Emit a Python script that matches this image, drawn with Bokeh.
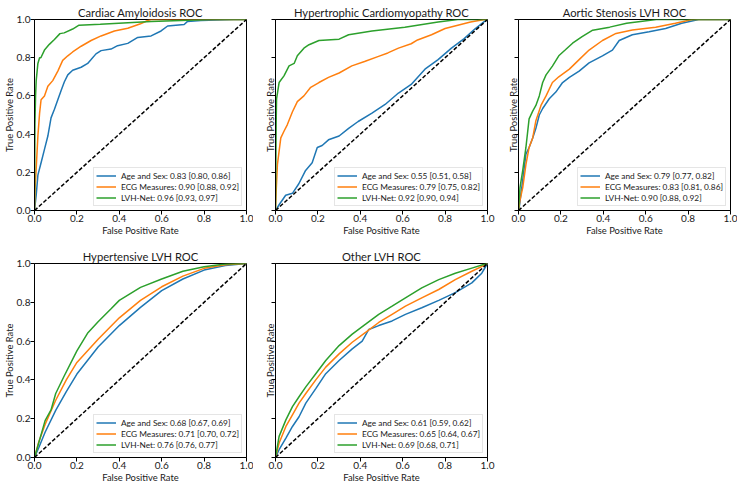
from bokeh.plotting import figure
from bokeh.layouts import column, row
from bokeh.models import Range1d, FixedTicker, PrintfTickFormatter, CustomJSTickFormatter, Legend
from bokeh.embed import file_html
from bokeh.resources import INLINE

# ---------------- data ----------------
titles = ["Cardiac Amyloidosis ROC", "Hypertrophic Cardiomyopathy ROC",
          "Aortic Stenosis LVH ROC", "Hypertensive LVH ROC", "Other LVH ROC"]
model_names = ["Age and Sex", "ECG Measures", "LVH-Net"]
auc_texts = [
    ["0.83 [0.80, 0.86]", "0.90 [0.88, 0.92]", "0.96 [0.93, 0.97]"],
    ["0.55 [0.51, 0.58]", "0.79 [0.75, 0.82]", "0.92 [0.90, 0.94]"],
    ["0.79 [0.77, 0.82]", "0.83 [0.81, 0.86]", "0.90 [0.88, 0.92]"],
    ["0.68 [0.67, 0.69]", "0.71 [0.70, 0.72]", "0.76 [0.76, 0.77]"],
    ["0.61 [0.59, 0.62]", "0.65 [0.64, 0.67]", "0.69 [0.68, 0.71]"],
]
tick_values = [0.0, 0.2, 0.4, 0.6, 0.8, 1.0]
chance_fpr = [0.0, 1.0]
chance_tpr = [0.0, 1.0]

# Cardiac amyloidosis
ca_age_fpr = [0, 0.008, 0.016, 0.031, 0.047, 0.063, 0.078, 0.094, 0.11, 0.126, 0.141, 0.157, 0.18, 0.22,
              0.251, 0.267, 0.29, 0.314, 0.361, 0.392, 0.44, 0.487, 0.55, 0.597, 0.628, 0.706, 0.722, 0.785, 0.94, 1.0]
ca_age_tpr = [0, 0.08, 0.185, 0.25, 0.32, 0.39, 0.485, 0.53, 0.58, 0.63, 0.674, 0.71, 0.734, 0.75,
              0.77, 0.79, 0.82, 0.837, 0.845, 0.863, 0.875, 0.906, 0.914, 0.94, 0.966, 0.974, 0.99, 0.995, 1.0, 1.0]
ca_ecg_fpr = [0, 0.003, 0.008, 0.016, 0.024, 0.031, 0.047, 0.063, 0.086, 0.11, 0.133, 0.157, 0.18, 0.22,
              0.267, 0.314, 0.377, 0.44, 0.50, 0.534, 0.55, 1.0]
ca_ecg_tpr = [0, 0.12, 0.22, 0.39, 0.51, 0.58, 0.60, 0.65, 0.68, 0.73, 0.786, 0.81, 0.83, 0.86,
              0.89, 0.914, 0.94, 0.954, 0.978, 0.995, 1.0, 1.0]
ca_lvh_fpr = [0, 0.002, 0.005, 0.008, 0.016, 0.024, 0.03, 0.047, 0.07, 0.094, 0.12, 0.14, 0.18, 0.21,
              0.31, 0.55, 0.83, 1.0]
ca_lvh_tpr = [0, 0.45, 0.6, 0.68, 0.77, 0.80, 0.80, 0.84, 0.87, 0.895, 0.926, 0.93, 0.95, 0.97,
              0.975, 0.99, 1.0, 1.0]

# Hypertrophic cardiomyopathy
hcm_age_fpr = [0, 0.017, 0.048, 0.08, 0.11, 0.142, 0.173, 0.197, 0.22, 0.25, 0.30, 0.345, 0.39, 0.455,
               0.517, 0.58, 0.64, 0.705, 0.767, 0.83, 0.89, 0.94, 0.986, 1.0]
hcm_age_tpr = [0, 0.03, 0.08, 0.09, 0.14, 0.21, 0.25, 0.33, 0.34, 0.37, 0.39, 0.43, 0.466, 0.51,
               0.555, 0.615, 0.66, 0.74, 0.79, 0.85, 0.90, 0.95, 0.99, 1.0]
hcm_ecg_fpr = [0, 0.004, 0.009, 0.025, 0.04, 0.056, 0.08, 0.103, 0.134, 0.166, 0.205, 0.25, 0.30, 0.36,
               0.42, 0.486, 0.53, 0.58, 0.64, 0.67, 0.736, 0.80, 0.86, 0.92, 0.986, 1.0]
hcm_ecg_tpr = [0, 0.12, 0.24, 0.38, 0.415, 0.45, 0.517, 0.57, 0.60, 0.645, 0.67, 0.697, 0.72, 0.757,
               0.78, 0.807, 0.825, 0.85, 0.873, 0.893, 0.92, 0.953, 0.97, 0.987, 1.0, 1.0]
hcm_lvh_fpr = [0, 0.003, 0.005, 0.017, 0.04, 0.064, 0.088, 0.103, 0.134, 0.158, 0.205, 0.30, 0.345,
               0.455, 0.61, 0.767, 0.86, 1.0]
hcm_lvh_tpr = [0, 0.45, 0.585, 0.67, 0.705, 0.757, 0.77, 0.81, 0.85, 0.868, 0.89, 0.897, 0.92,
               0.94, 0.96, 0.987, 1.0, 1.0]

# Aortic stenosis LVH
as_age_fpr = [0, 0.004, 0.012, 0.02, 0.035, 0.05, 0.067, 0.082, 0.098, 0.114, 0.145, 0.176, 0.208, 0.24,
              0.286, 0.333, 0.396, 0.443, 0.475, 0.537, 0.616, 0.694, 0.77, 0.85, 1.0]
as_age_tpr = [0, 0.02, 0.09, 0.16, 0.295, 0.33, 0.38, 0.43, 0.50, 0.534, 0.585, 0.62, 0.67, 0.697,
              0.73, 0.773, 0.81, 0.84, 0.89, 0.92, 0.936, 0.953, 0.98, 1.0, 1.0]
as_ecg_fpr = [0, 0.007, 0.02, 0.035, 0.05, 0.067, 0.082, 0.106, 0.13, 0.16, 0.19, 0.24, 0.286, 0.333,
              0.396, 0.46, 0.537, 0.647, 0.74, 0.82, 1.0]
as_ecg_tpr = [0, 0.055, 0.12, 0.24, 0.33, 0.38, 0.47, 0.55, 0.60, 0.67, 0.70, 0.74, 0.79, 0.84,
              0.89, 0.927, 0.945, 0.96, 0.98, 1.0, 1.0]
as_lvh_fpr = [0, 0.007, 0.02, 0.035, 0.05, 0.067, 0.082, 0.098, 0.114, 0.13, 0.16, 0.19, 0.22, 0.255,
              0.30, 0.35, 0.43, 0.51, 0.65, 1.0]
as_lvh_tpr = [0, 0.12, 0.21, 0.33, 0.48, 0.52, 0.55, 0.60, 0.67, 0.71, 0.756, 0.81, 0.84, 0.876,
              0.91, 0.944, 0.96, 0.98, 1.0, 1.0]

# Hypertensive LVH
htn_age_fpr = [0, 0.02, 0.05, 0.1, 0.15, 0.2, 0.3, 0.4, 0.5, 0.6, 0.7, 0.8, 0.9, 1.0]
htn_age_tpr = [0, 0.05, 0.13, 0.243, 0.34, 0.43, 0.57, 0.68, 0.774, 0.86, 0.92, 0.966, 0.99, 1.0]
htn_ecg_fpr = [0, 0.02, 0.05, 0.1, 0.15, 0.2, 0.3, 0.4, 0.5, 0.6, 0.7, 0.8, 0.9, 1.0]
htn_ecg_tpr = [0, 0.08, 0.17, 0.295, 0.40, 0.49, 0.61, 0.72, 0.81, 0.88, 0.935, 0.975, 0.993, 1.0]
htn_lvh_fpr = [0, 0.016, 0.05, 0.078, 0.1, 0.14, 0.2, 0.25, 0.3, 0.36, 0.4, 0.5, 0.6, 0.7, 0.8, 0.9, 1.0]
htn_lvh_tpr = [0, 0.06, 0.19, 0.245, 0.33, 0.42, 0.55, 0.64, 0.70, 0.765, 0.81, 0.877, 0.92, 0.96, 0.983, 0.997, 1.0]

# Other LVH
oth_age_fpr = [0, 0.017, 0.049, 0.08, 0.111, 0.143, 0.19, 0.237, 0.30, 0.362, 0.409, 0.44, 0.487,
               0.55, 0.613, 0.69, 0.77, 0.848, 0.926, 0.973, 1.0]
oth_age_tpr = [0, 0.04, 0.10, 0.16, 0.21, 0.28, 0.355, 0.432, 0.50, 0.56, 0.60, 0.66, 0.68,
               0.704, 0.738, 0.772, 0.81, 0.85, 0.90, 0.95, 1.0]
oth_ecg_fpr = [0, 0.017, 0.049, 0.08, 0.111, 0.143, 0.19, 0.237, 0.30, 0.362, 0.425, 0.487, 0.55,
               0.613, 0.69, 0.77, 0.848, 0.926, 0.989, 1.0]
oth_ecg_tpr = [0, 0.075, 0.16, 0.22, 0.28, 0.33, 0.40, 0.466, 0.534, 0.594, 0.645, 0.696, 0.738,
               0.78, 0.823, 0.866, 0.917, 0.96, 0.993, 1.0]
oth_lvh_fpr = [0, 0.017, 0.049, 0.08, 0.111, 0.143, 0.19, 0.237, 0.30, 0.362, 0.425, 0.487, 0.55,
               0.613, 0.69, 0.77, 0.848, 0.926, 0.989, 1.0]
oth_lvh_tpr = [0, 0.109, 0.194, 0.262, 0.313, 0.364, 0.432, 0.50, 0.577, 0.636, 0.687, 0.738, 0.78,
               0.823, 0.874, 0.917, 0.95, 0.976, 0.997, 1.0]

panels_data = [
    [(ca_age_fpr, ca_age_tpr), (ca_ecg_fpr, ca_ecg_tpr), (ca_lvh_fpr, ca_lvh_tpr)],
    [(hcm_age_fpr, hcm_age_tpr), (hcm_ecg_fpr, hcm_ecg_tpr), (hcm_lvh_fpr, hcm_lvh_tpr)],
    [(as_age_fpr, as_age_tpr), (as_ecg_fpr, as_ecg_tpr), (as_lvh_fpr, as_lvh_tpr)],
    [(htn_age_fpr, htn_age_tpr), (htn_ecg_fpr, htn_ecg_tpr), (htn_lvh_fpr, htn_lvh_tpr)],
    [(oth_age_fpr, oth_age_tpr), (oth_ecg_fpr, oth_ecg_tpr), (oth_lvh_fpr, oth_lvh_tpr)],
]

# ---------------- styling ----------------
FONT = "Lato"
TEXT = "#1a1a1a"
COLORS = ["#1f77b4", "#ff7f0e", "#2ca02c"]
FRAME_W = 212


def make_panel(idx, frame_h, left, right, top, bottom, show_ylabels):
    p = figure(frame_width=FRAME_W, frame_height=frame_h,
               output_backend="svg", toolbar_location=None,
               x_range=Range1d(0, 1), y_range=Range1d(0, 1),
               min_border_left=left, min_border_right=right,
               min_border_top=top, min_border_bottom=bottom)
    p.xgrid.visible = False
    p.ygrid.visible = False
    p.outline_line_color = "black"
    p.outline_line_alpha = 1.0
    p.outline_line_width = 1
    p.background_fill_color = "white"
    p.border_fill_color = "white"

    p.title.text = titles[idx]
    p.title.align = "center"
    p.title.text_font = FONT
    p.title.text_font_size = "11.2px"
    p.title.text_font_style = "normal"
    p.title.text_color = TEXT
    p.title.standoff = 2

    for ax in (p.xaxis[0], p.yaxis[0]):
        ax.ticker = FixedTicker(ticks=tick_values)
        ax.formatter = PrintfTickFormatter(format="%.1f")
        ax.major_tick_out = 4
        ax.major_tick_in = 0
        ax.minor_tick_line_color = None
        ax.major_tick_line_color = "black"
        ax.axis_line_color = "black"
        ax.major_label_text_font = FONT
        ax.major_label_text_font_size = "10px"
        ax.major_label_text_color = TEXT
        ax.major_label_standoff = 0
        ax.axis_label_text_font = FONT
        ax.axis_label_text_font_size = "9.4px"
        ax.axis_label_text_font_style = "normal"
        ax.axis_label_text_color = TEXT
    p.xaxis.axis_label = "False Positive Rate"
    p.yaxis.axis_label = "True Positive Rate"
    p.xaxis.axis_label_standoff = 0
    if show_ylabels:
        p.yaxis.axis_label_standoff = -1
    else:
        p.yaxis.axis_label_standoff = -4
        p.yaxis.formatter = CustomJSTickFormatter(code="return ''")

    items = []
    for k, (fx, fy) in enumerate(panels_data[idx]):
        r = p.line(fx, fy, line_color=COLORS[k], line_width=1.5)
        items.append((model_names[k] + ": " + auc_texts[idx][k], [r]))
    p.line(chance_fpr, chance_tpr, line_color="black", line_width=1.5, line_dash="4 2")

    legend = Legend(items=items, location="bottom_right",
                    label_text_font=FONT, label_text_font_size="8.3px", label_text_color=TEXT,
                    glyph_width=20, glyph_height=11, label_height=11, label_width=118,
                    label_standoff=5, spacing=0, padding=2, margin=4,
                    border_line_color="#cccccc", border_line_width=1,
                    background_fill_color="white", background_fill_alpha=0.8)
    p.add_layout(legend)
    return p


f1 = make_panel(0, 191, 34, 7, 19, 27, True)
f2 = make_panel(1, 191, 22, 8, 19, 27, False)
f3 = make_panel(2, 191, 23, 7, 19, 27, False)
f4 = make_panel(3, 194, 34, 7, 25, 27, True)
f5 = make_panel(4, 194, 22, 8, 25, 27, False)

layout = column(row(f1, f2, f3), row(f4, f5))

open("out.html", "w").write(file_html(layout, INLINE))
